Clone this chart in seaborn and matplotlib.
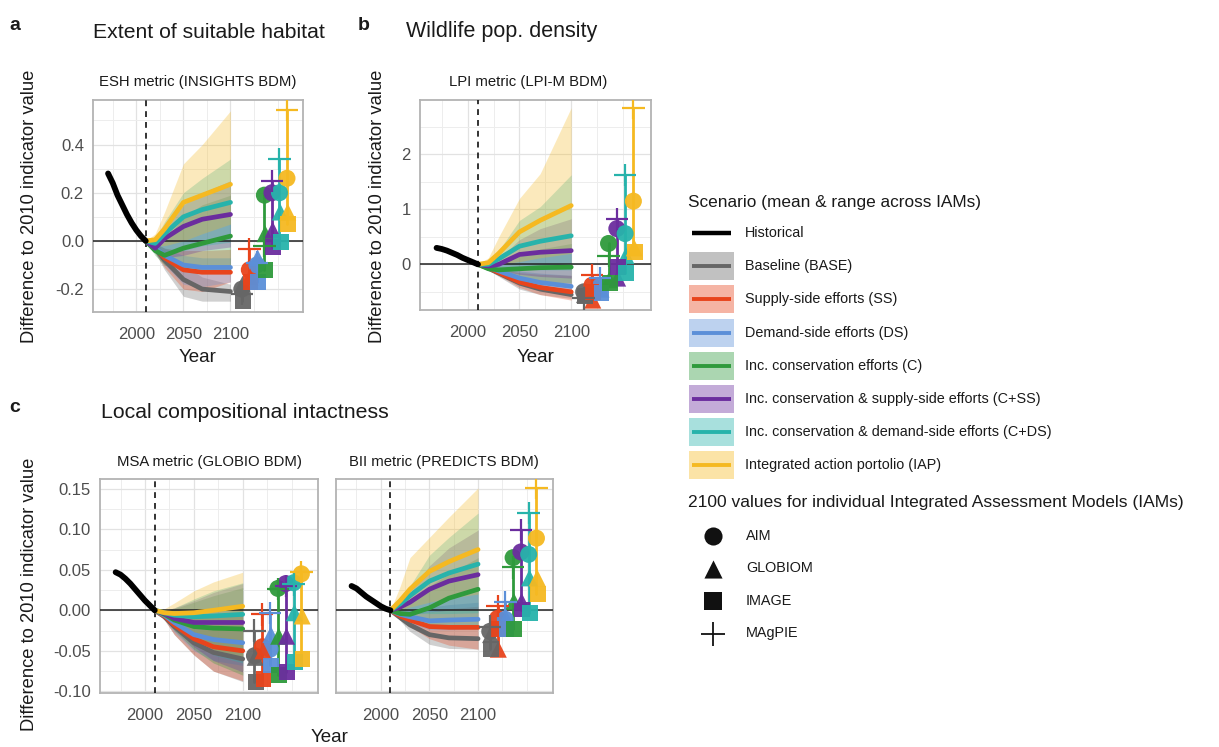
import numpy as np
import pandas as pd
import matplotlib
matplotlib.use("Agg")
import matplotlib.pyplot as plt
import seaborn as sns
from matplotlib.patches import Rectangle
from matplotlib.ticker import MultipleLocator, FormatStrFormatter

# ---------------- data ----------------
SCEN = ["Baseline (BASE)", "Supply-side efforts (SS)", "Demand-side efforts (DS)",
        "Inc. conservation efforts (C)", "Inc. conservation & supply-side efforts (C+SS)",
        "Inc. conservation & demand-side efforts (C+DS)", "Integrated action portolio (IAP)"]
COLORS = ["#666666", "#e8441c", "#5b8fd8", "#2f9a3c", "#6b2d9e", "#27b3ab", "#f5b921"]
IAMS = ["AIM", "GLOBIOM", "IMAGE", "MAgPIE"]
IAM_MARKERS = ["o", "^", "s", "+"]

HIST_YEARS = [1970, 1975, 1980, 1985, 1990, 1995, 2000, 2005, 2010]
SCEN_YEARS = [2010, 2020, 2030, 2050, 2070, 2100]

# ---- a: ESH metric ----
ESH_HIST = [0.28, 0.24, 0.19, 0.15, 0.11, 0.075, 0.045, 0.02, 0.0]
ESH_MEAN = [[0, -0.03, -0.08, -0.16, -0.20, -0.21],
            [0, -0.03, -0.07, -0.12, -0.13, -0.13],
            [0, -0.03, -0.06, -0.10, -0.11, -0.11],
            [0, -0.04, -0.06, -0.03, -0.01, 0.02],
            [0, -0.03, 0.01, 0.06, 0.09, 0.11],
            [0, -0.01, 0.03, 0.10, 0.13, 0.16],
            [0, 0.005, 0.05, 0.16, 0.19, 0.235]]
ESH_LO = [[0, -0.05, -0.12, -0.23, -0.25, -0.25],
          [0, -0.05, -0.11, -0.20, -0.21, -0.17],
          [0, -0.05, -0.10, -0.18, -0.19, -0.17],
          [0, -0.06, -0.10, -0.12, -0.12, -0.12],
          [0, -0.05, -0.07, -0.06, -0.04, -0.025],
          [0, -0.04, -0.05, -0.04, -0.02, -0.005],
          [0, -0.02, -0.02, 0.0, 0.03, 0.07]]
ESH_HI = [[0, -0.01, -0.05, -0.10, -0.15, -0.18],
          [0, -0.01, -0.03, -0.04, -0.04, -0.035],
          [0, -0.01, -0.03, -0.06, -0.07, -0.07],
          [0, -0.02, 0.0, 0.10, 0.15, 0.19],
          [0, -0.01, 0.04, 0.15, 0.20, 0.25],
          [0, 0.01, 0.08, 0.20, 0.26, 0.34],
          [0, 0.03, 0.12, 0.32, 0.40, 0.54]]
ESH_2100 = [[-0.20, -0.18, -0.25, -0.22],
            [-0.12, -0.15, -0.17, -0.035],
            [-0.10, -0.07, -0.17, -0.09],
            [0.19, 0.03, -0.12, -0.02],
            [0.20, 0.045, -0.025, 0.25],
            [0.20, 0.12, -0.005, 0.34],
            [0.26, 0.12, 0.07, 0.545]]

# ---- b: LPI metric ----
LPI_HIST = [0.30, 0.28, 0.25, 0.21, 0.17, 0.12, 0.08, 0.04, 0.0]
LPI_MEAN = [[0, -0.07, -0.16, -0.34, -0.45, -0.55],
            [0, -0.06, -0.15, -0.32, -0.42, -0.50],
            [0, -0.05, -0.12, -0.25, -0.33, -0.40],
            [0, -0.08, -0.10, -0.08, -0.06, -0.05],
            [0, -0.03, 0.0, 0.18, 0.22, 0.25],
            [0, 0.0, 0.10, 0.33, 0.42, 0.52],
            [0, 0.03, 0.20, 0.59, 0.80, 1.07]]
LPI_LO = [[0, -0.10, -0.22, -0.45, -0.55, -0.62],
          [0, -0.09, -0.20, -0.42, -0.55, -0.65],
          [0, -0.08, -0.18, -0.38, -0.48, -0.52],
          [0, -0.12, -0.18, -0.28, -0.32, -0.34],
          [0, -0.08, -0.10, -0.18, -0.22, -0.25],
          [0, -0.05, -0.05, -0.08, -0.10, -0.10],
          [0, -0.02, 0.0, 0.05, 0.12, 0.20]]
LPI_HI = [[0, -0.04, -0.10, -0.25, -0.36, -0.50],
          [0, -0.03, -0.08, -0.15, -0.18, -0.20],
          [0, -0.02, -0.06, -0.12, -0.16, -0.20],
          [0, -0.02, 0.02, 0.15, 0.28, 0.38],
          [0, 0.02, 0.10, 0.45, 0.65, 0.83],
          [0, 0.05, 0.25, 0.80, 1.05, 1.63],
          [0, 0.12, 0.50, 1.20, 1.65, 2.85]]
LPI_2100 = [[-0.50, -0.55, -0.58, -0.62],
            [-0.38, -0.65, -0.50, -0.20],
            [-0.40, -0.45, -0.52, -0.25],
            [0.38, -0.28, -0.34, 0.15],
            [0.65, -0.25, -0.05, 0.83],
            [0.56, 0.16, -0.15, 1.63],
            [1.15, 0.30, 0.22, 2.85]]

# ---- c: MSA metric ----
MSA_HIST = [0.047, 0.044, 0.039, 0.033, 0.026, 0.019, 0.012, 0.006, 0.0]
MSA_MEAN = [[0, -0.008, -0.020, -0.040, -0.052, -0.060],
            [0, -0.007, -0.018, -0.035, -0.045, -0.050],
            [0, -0.006, -0.015, -0.030, -0.036, -0.040],
            [0, -0.005, -0.012, -0.020, -0.022, -0.023],
            [0, -0.004, -0.010, -0.015, -0.015, -0.015],
            [0, -0.003, -0.006, -0.008, -0.007, -0.005],
            [0, -0.003, -0.004, -0.003, 0.0, 0.005]]
MSA_LO = [[0, -0.012, -0.030, -0.055, -0.075, -0.088],
          [0, -0.012, -0.030, -0.055, -0.075, -0.087],
          [0, -0.011, -0.027, -0.050, -0.062, -0.068],
          [0, -0.010, -0.025, -0.048, -0.065, -0.080],
          [0, -0.009, -0.022, -0.045, -0.062, -0.076],
          [0, -0.008, -0.020, -0.040, -0.055, -0.065],
          [0, -0.007, -0.018, -0.035, -0.050, -0.058]]
MSA_HI = [[0, -0.004, -0.010, -0.018, -0.022, -0.025],
          [0, -0.002, -0.005, -0.007, -0.006, -0.005],
          [0, -0.002, -0.004, -0.005, -0.004, -0.003],
          [0, 0.0, 0.002, 0.010, 0.018, 0.028],
          [0, 0.0, 0.003, 0.012, 0.022, 0.033],
          [0, 0.0, 0.003, 0.014, 0.024, 0.034],
          [0, 0.002, 0.009, 0.024, 0.035, 0.047]]
MSA_2100 = [[-0.056, -0.058, -0.088, -0.025],
            [-0.045, -0.050, -0.085, -0.005],
            [-0.048, -0.030, -0.068, -0.003],
            [0.027, -0.032, -0.080, 0.026],
            [0.033, -0.032, -0.076, 0.030],
            [0.034, -0.003, -0.064, 0.032],
            [0.045, -0.007, -0.060, 0.047]]

# ---- c: BII metric ----
BII_HIST = [0.030, 0.027, 0.022, 0.017, 0.013, 0.009, 0.005, 0.002, 0.0]
BII_MEAN = [[0, -0.009, -0.018, -0.030, -0.034, -0.035],
            [0, -0.007, -0.012, -0.020, -0.021, -0.021],
            [0, -0.005, -0.008, -0.013, -0.012, -0.011],
            [0, -0.004, -0.005, 0.003, 0.015, 0.026],
            [0, 0.004, 0.010, 0.026, 0.036, 0.044],
            [0, 0.008, 0.018, 0.036, 0.046, 0.057],
            [0, 0.012, 0.026, 0.048, 0.060, 0.075]]
BII_LO = [[0, -0.013, -0.026, -0.042, -0.047, -0.048],
          [0, -0.011, -0.020, -0.035, -0.043, -0.048],
          [0, -0.009, -0.016, -0.024, -0.024, -0.023],
          [0, -0.008, -0.013, -0.018, -0.020, -0.023],
          [0, -0.004, -0.005, -0.002, 0.0, 0.001],
          [0, -0.003, -0.004, -0.004, -0.004, -0.003],
          [0, 0.0, 0.004, 0.010, 0.015, 0.020]]
BII_HI = [[0, -0.005, -0.010, -0.018, -0.020, -0.020],
          [0, -0.002, -0.004, -0.002, 0.002, 0.005],
          [0, -0.001, 0.0, 0.004, 0.007, 0.010],
          [0, 0.003, 0.012, 0.030, 0.045, 0.065],
          [0, 0.008, 0.022, 0.055, 0.077, 0.099],
          [0, 0.012, 0.030, 0.068, 0.090, 0.120],
          [0, 0.030, 0.065, 0.090, 0.115, 0.151]]
BII_2100 = [[-0.026, -0.030, -0.048, -0.020],
            [-0.010, -0.048, -0.023, 0.005],
            [-0.011, -0.010, -0.023, 0.010],
            [0.065, 0.011, -0.023, 0.053],
            [0.072, 0.011, 0.001, 0.099],
            [0.069, 0.040, -0.003, 0.120],
            [0.089, 0.040, 0.020, 0.151]]

# ---------------- style ----------------
sns.set_theme(style="whitegrid")
plt.rcParams['font.family'] = ['Liberation Sans', 'DejaVu Sans']
plt.rcParams['axes.unicode_minus'] = False

W, H = 1219, 747
fig = plt.figure(figsize=(W / 100, H / 100), dpi=100)

def ax_at(l, t, r, b):
    return fig.add_axes([l / W, 1 - b / H, (r - l) / W, (b - t) / H])

PAL = dict(zip(SCEN, COLORS))
MARK_X0, MARK_DX = 2112, 8
IAM_DODGE = [0.0, 0.8, 1.2, 0.0]


def draw_panel(ax, hist, mean, lo, hi, vals2100, ylim, ymaj, fmt, show_y=True):
    ax.set_facecolor("white")
    # ribbons
    for k, s in enumerate(SCEN):
        ax.fill_between(SCEN_YEARS, lo[k], hi[k], color=COLORS[k], alpha=0.3, lw=0, zorder=2)
    ax.axhline(0, color="#222222", lw=1.1, zorder=3)
    ax.axvline(2010, color="#111111", lw=1.2, ls=(0, (3.5, 3)), zorder=3)
    # mean lines
    df = pd.DataFrame([(y, v, s) for s, vals in zip(SCEN, mean) for y, v in zip(SCEN_YEARS, vals)],
                      columns=["year", "value", "scenario"])
    sns.lineplot(data=df, x="year", y="value", hue="scenario", hue_order=SCEN, palette=PAL,
                 lw=3.4, ax=ax, legend=False, estimator=None, zorder=4)
    hdf = pd.DataFrame({"year": HIST_YEARS, "value": hist})
    sns.lineplot(data=hdf, x="year", y="value", color="black", lw=4.2, ax=ax, zorder=5)
    # 2100 IAM values
    for k, s in enumerate(SCEN):
        xk = MARK_X0 + MARK_DX * k
        ax.plot([xk, xk], [min(vals2100[k]), max(vals2100[k])], color=COLORS[k], lw=2.0, zorder=5)
    for j, (iam, m) in enumerate(zip(IAMS, IAM_MARKERS)):
        mdf = pd.DataFrame({"x": [MARK_X0 + MARK_DX * k + IAM_DODGE[j] for k in range(len(SCEN))],
                            "value": [vals2100[k][j] for k in range(len(SCEN))],
                            "scenario": SCEN})
        if m == "+":
            ax.scatter(mdf["x"], mdf["value"], c=[PAL[s] for s in mdf["scenario"]], marker="+",
                       s=260, linewidths=1.6, zorder=7)
        else:
            sns.scatterplot(data=mdf, x="x", y="value", hue="scenario", hue_order=SCEN, palette=PAL,
                            marker=m, s=150 if m != "s" else 130, linewidth=0, edgecolor="none",
                            alpha=0.95, ax=ax, legend=False, zorder=6)
    # axes styling
    ax.set_xlim(1954, 2177)
    ax.set_ylim(*ylim)
    ax.set_xticks([2000, 2050, 2100])
    ax.set_xticks([1975, 2025, 2075, 2125, 2150], minor=True)
    ax.yaxis.set_major_locator(MultipleLocator(ymaj))
    ax.yaxis.set_minor_locator(MultipleLocator(ymaj / 2))
    ax.yaxis.set_major_formatter(FormatStrFormatter(fmt))
    ax.grid(which="major", color="#e2e2e2", lw=0.9, zorder=0)
    ax.grid(which="minor", color="#ededed", lw=0.7, zorder=0)
    ax.set_axisbelow(True)
    for sp in ax.spines.values():
        sp.set_color("#b3b3b3")
        sp.set_linewidth(1.3)
    ax.tick_params(which="major", length=3.5, width=1.0, color="#b3b3b3", labelsize=12,
                   labelcolor="#4d4d4d", direction="out", pad=3)
    ax.tick_params(which="minor", length=0)
    ax.tick_params(axis="x", pad=7)
    if not show_y:
        ax.tick_params(axis="y", which="both", length=0, labelleft=False)
    ax.set_xlabel("")
    ax.set_ylabel("")


ax_a = ax_at(93, 100, 303, 312)
draw_panel(ax_a, ESH_HIST, ESH_MEAN, ESH_LO, ESH_HI, ESH_2100, (-0.295, 0.585), 0.2, "%.1f")
ax_b = ax_at(420, 100, 651, 310)
draw_panel(ax_b, LPI_HIST, LPI_MEAN, LPI_LO, LPI_HI, LPI_2100, (-0.83, 2.99), 1.0, "%.0f")
ax_c1 = ax_at(100, 479, 318, 693)
draw_panel(ax_c1, MSA_HIST, MSA_MEAN, MSA_LO, MSA_HI, MSA_2100, (-0.102, 0.162), 0.05, "%.2f")
ax_c2 = ax_at(336, 479, 553, 693)
draw_panel(ax_c2, BII_HIST, BII_MEAN, BII_LO, BII_HI, BII_2100, (-0.102, 0.162), 0.05, "%.2f", show_y=False)

# ---------------- overlay texts & legend ----------------
ov = fig.add_axes([0, 0, 1, 1], zorder=-1)
ov.set_xlim(0, W)
ov.set_ylim(H, 0)
ov.axis("off")

TXT = "#1a1a1a"
def t(x, y, s, **kw):
    kw.setdefault("color", TXT)
    kw.setdefault("va", "center")
    ov.text(x, y, s, **kw)

t(9, 26, "a", fontsize=14, fontweight="bold", ha="left")
t(93, 32, "Extent of suitable habitat", fontsize=15.2, ha="left")
t(198, 82, "ESH metric (INSIGHTS BDM)", fontsize=10.7, ha="center")
t(30, 206, "Difference to 2010 indicator value", fontsize=13.2, ha="center", rotation=90)
t(198, 358, "Year", fontsize=13.5, ha="center")

t(358, 26, "b", fontsize=14, fontweight="bold", ha="left")
t(406, 32, "Wildlife pop. density", fontsize=15.5, ha="left")
t(528, 82, "LPI metric (LPI-M BDM)", fontsize=10.7, ha="center")
t(378, 206, "Difference to 2010 indicator value", fontsize=13.2, ha="center", rotation=90)
t(536, 358, "Year", fontsize=13.5, ha="center")

t(9, 408, "c", fontsize=14, fontweight="bold", ha="left")
t(101, 412, "Local compositional intactness", fontsize=15.3, ha="left")
t(209, 462, "MSA metric (GLOBIO BDM)", fontsize=10.7, ha="center")
t(444, 462, "BII metric (PREDICTS BDM)", fontsize=10.7, ha="center")
t(30, 594, "Difference to 2010 indicator value", fontsize=13.2, ha="center", rotation=90)
t(330, 737, "Year", fontsize=13.5, ha="center")

# legend: scenarios
t(688, 202, "Scenario (mean & range across IAMs)", fontsize=12.4, ha="left")
LEG_Y0, LEG_DY = 233, 33.2
ov.plot([692, 731], [LEG_Y0, LEG_Y0], color="black", lw=3.2, solid_capstyle="butt")
t(745, LEG_Y0, "Historical", fontsize=10.4, ha="left")
for k, s in enumerate(SCEN):
    yk = LEG_Y0 + LEG_DY * (k + 1)
    ov.add_patch(Rectangle((689, yk - 14), 45, 28, facecolor=COLORS[k], alpha=0.4, lw=0))
    ov.plot([692, 731], [yk, yk], color=COLORS[k], lw=2.8, solid_capstyle="butt")
    t(745, yk, s, fontsize=10.4, ha="left")

# legend: IAMs
t(688, 502, "2100 values for individual Integrated Assessment Models (IAMs)", fontsize=12.5, ha="left")
for j, (iam, m) in enumerate(zip(IAMS, IAM_MARKERS)):
    yj = 536 + 32.5 * j
    if m == "+":
        ov.scatter([713], [yj], marker=m, s=300, c="#111111", linewidths=1.3)
    else:
        ov.scatter([713], [yj], marker=m, s=170 if m != "s" else 150, c="#111111", linewidths=0)
    t(746, yj, iam, fontsize=10.4, ha="left")

fig.savefig("out.png", dpi=100)
